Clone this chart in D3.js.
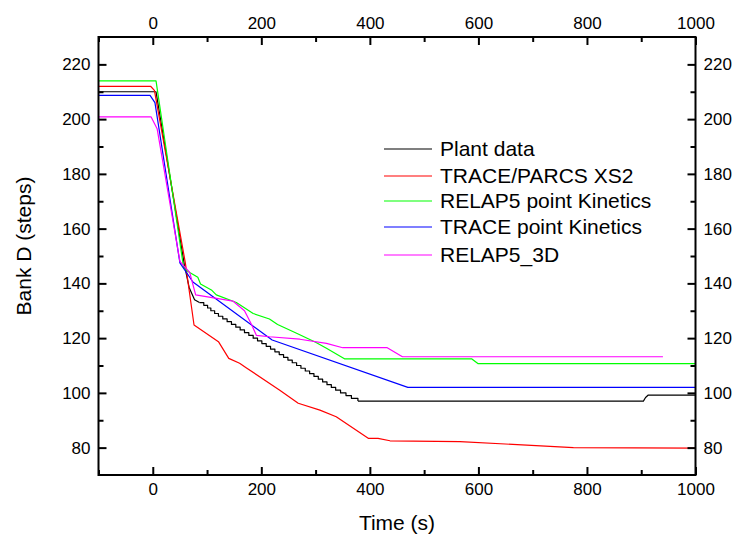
<!DOCTYPE html>
<html><head><meta charset="utf-8">
<script src="https://cdn.jsdelivr.net/npm/d3@7"></script>
<style>body{margin:0;background:#fff} text{font-family:"Liberation Sans",Arial,sans-serif;fill:#000}</style>
</head><body><svg id="c" width="737" height="544"></svg>
<script>
// ---- data (time s, Bank D steps) ----
const plantRamp = [[-100,210],[6,210],[58,147],[67,138.5],[77,134],[86,133]];
const plantSteps = [[86,133],[94,132],[101,131],[107,130],[114,129],[121,128],[129,127],[137,126],[145,125],[153,124],[161,123],[169,122],[177,121],[185,120],[193,119],[201,118],[209,117],[217,116],[225,115],[233,114],[241,113],[249,112],[257,111],[265,110],[273,109],[281,108],[289,107],[297,106],[305,105],[313,104],[321,103],[329,102],[337,101],[346,100],[356,99],[366,98],[378,97]];
const plantTail = [[378,97],[904,97],[908,98.3],[913,99.2],[1000,99.2]];
const traceParcs = [[-100,212],[-4,212],[3,210.5],[60,147.5],[76,124.8],[121,118.7],[140,112.6],[160,110.8],[172,109.2],[234,101],[268,96.2],[308,93.7],[338,91.3],[397,83.4],[415,83.4],[437,82.5],[566,82.2],[775,80],[1000,79.8]];
const relap5PK = [[-100,214],[6,214],[57,145.5],[68,144],[83,142.2],[88,139.8],[108,137.6],[117,135.8],[154,133],[185,129],[215,127],[230,125],[265,121.8],[300,118.5],[320,116.3],[354,112.4],[588,112.4],[599,110.7],[1000,110.7]];
const tracePK = [[-100,208.7],[-5,208.7],[4,206],[50,147.5],[74,140.5],[220,119.3],[470,102],[1000,102]];
const relap53D = [[-100,200.8],[-3,200.8],[8,196.5],[50,148],[68,144],[79,135.8],[148,133.5],[169,130],[182,125],[191,121],[215,120.5],[271,119.6],[320,118.1],[350,116.5],[432,116.5],[460,113.2],[940,113.2]];

const seriesNames = ["Plant data","TRACE/PARCS XS2","RELAP5 point Kinetics","TRACE point Kinetics","RELAP5_3D"];
const seriesColors = ["#000000","#ff0000","#00ff00","#0000ff","#ff00ff"];

const xMajor = [0,200,400,600,800,1000];
const xMinor = [-100,100,300,500,700,900];
const yMajor = [80,100,120,140,160,180,200,220];
const yMinor = [90,110,130,150,170,190,210];

// ---- layout ----
const L=98.5, R=695.5, T=37, B=475;
const svg = d3.select("#c");
const x = d3.scaleLinear().domain([-100,1000]).range([L,R]);
const y = d3.scaleLinear().domain([70,230]).range([B,T]);

const lin = d3.line().x(d=>x(d[0])).y(d=>y(d[1]));
const stp = d3.line().x(d=>x(d[0])).y(d=>y(d[1])).curve(d3.curveStepAfter);

const g = svg.append("g").attr("fill","none").attr("stroke-width",1.2).attr("stroke-linejoin","round");
function draw(data, col, gen){ g.append("path").datum(data).attr("d",gen||lin).attr("stroke",col); }
draw(plantRamp, seriesColors[0]);
draw(plantSteps, seriesColors[0], stp);
draw(plantTail, seriesColors[0]);
draw(traceParcs, seriesColors[1]);
draw(relap5PK, seriesColors[2]);
draw(tracePK, seriesColors[3]);
draw(relap53D, seriesColors[4]);

// ---- axes ----
function ax(axisFn, scale, major, minor, tr, fs){
  const a = svg.append("g").attr("transform",tr)
    .call(axisFn(scale).tickValues(major).tickSizeInner(-8).tickSizeOuter(0).tickPadding(8).tickFormat(d3.format("d")));
  a.select(".domain").remove();
  a.selectAll("line").attr("stroke","#000").attr("stroke-width",2);
  a.selectAll("text").attr("font-size",fs).attr("fill","#000");
  const m = svg.append("g").attr("transform",tr)
    .call(axisFn(scale).tickValues(minor).tickSizeInner(-5).tickSizeOuter(0).tickFormat(""));
  m.select(".domain").remove();
  m.selectAll("line").attr("stroke","#000").attr("stroke-width",2);
  return a;
}
ax(d3.axisBottom, x, xMajor, xMinor, `translate(0,${B})`, 17);
ax(d3.axisTop, x, xMajor, xMinor, `translate(0,${T})`, 17);
ax(d3.axisLeft, y, yMajor, yMinor, `translate(${L},0)`, 17);
ax(d3.axisRight, y, yMajor, yMinor, `translate(${R},0)`, 17);

svg.append("rect").attr("x",L).attr("y",T).attr("width",R-L).attr("height",B-T)
  .attr("fill","none").attr("stroke","#000").attr("stroke-width",2);

// ---- titles ----
svg.append("text").attr("x",(L+R)/2).attr("y",530).attr("text-anchor","middle").attr("font-size",21).text("Time (s)");
svg.append("text").attr("transform",`translate(31,${(T+B)/2 - 10}) rotate(-90)`).attr("text-anchor","middle").attr("font-size",21).text("Bank D (steps)");

// ---- legend ----
const legY = [149,176,201,227,255];
const leg = svg.append("g");
seriesNames.forEach((n,i)=>{
  leg.append("line").attr("x1",384).attr("x2",432).attr("y1",legY[i]).attr("y2",legY[i]).attr("stroke",seriesColors[i]).attr("stroke-width",1.2);
  leg.append("text").attr("x",440).attr("y",legY[i]).attr("dy","0.35em").attr("font-size",21).text(n);
});
</script></body></html>
